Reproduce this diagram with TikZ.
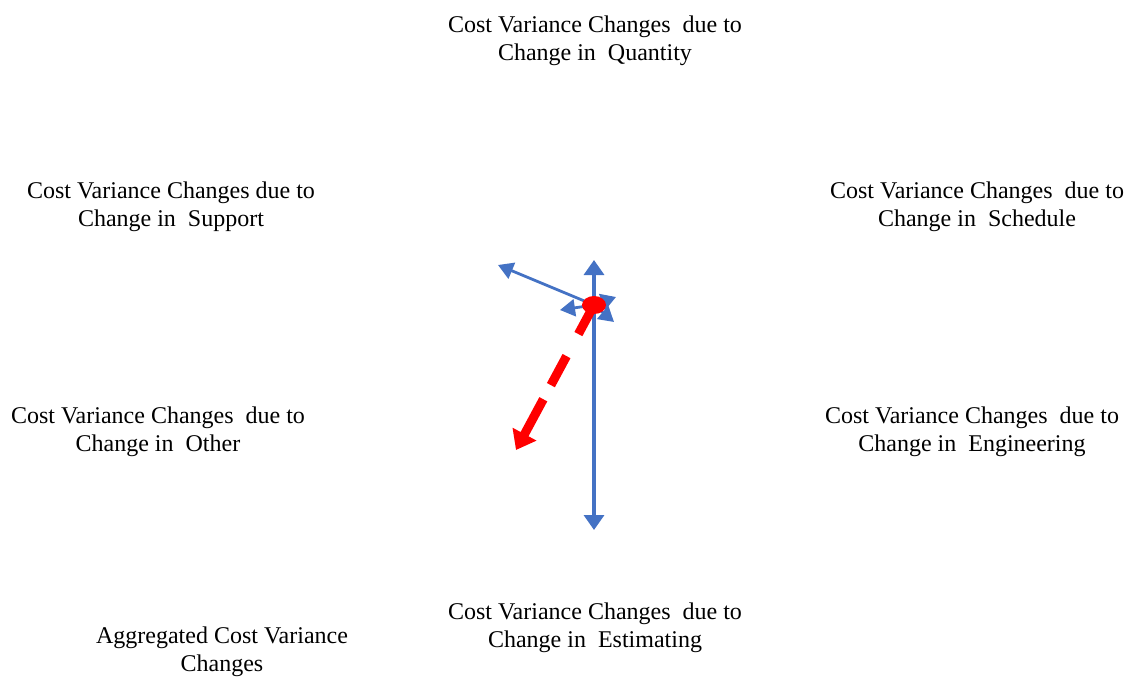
\documentclass[tikz,border=0pt]{standalone}
\usepackage{fontspec}
\setmainfont{Liberation Serif}
\usetikzlibrary{arrows.meta,calc}
\definecolor{oblue}{RGB}{68,114,196}
\begin{document}
\begin{tikzpicture}[x=1pt,y=-1pt,
  lbl/.style={align=center,font=\fontsize{24}{28}\selectfont,inner sep=0pt},
  barrow/.style={draw=oblue,line width=3.4pt,-{Triangle[length=15pt,width=20pt]}},
  sarrow/.style={draw=oblue,line width=2.8pt,-{Triangle[length=15pt,width=17pt]}},
  rline/.style={draw=red,line width=9pt,dash pattern=on 33pt off 25pt},
  rhead/.style={draw=red,line width=9pt,-{Triangle[length=18pt,width=26pt]}}]
\useasboundingbox (0,0) rectangle (1131,677);
\node[lbl] (qty) at (595,41) {Cost Variance Changes\ \ due to\\Change in\ \ Quantity};
\node[lbl] (sup) at (171,207) {Cost Variance Changes due to\\Change in\ \ Support};
\node[lbl] (sch) at (977,207) {Cost Variance Changes\ \ due to\\Change in\ \ Schedule};
\node[lbl] (oth) at (158,432) {Cost Variance Changes\ \ due to\\Change in\ \ Other};
\node[lbl] (eng) at (972,432) {Cost Variance Changes\ \ due to\\Change in\ \ Engineering};
\node[lbl] (est) at (595,628) {Cost Variance Changes\ \ due to\\Change in\ \ Estimating};
\node[lbl] (agg) at (222,652) {Aggregated Cost Variance\\Changes};
\coordinate (c) at (594,305);
\coordinate (tq) at (594,260);
\coordinate (te) at (594,530);
\coordinate (ts) at (498,265);
\coordinate (tsch) at (616,297);
\coordinate (teng) at (614,322);
\coordinate (toth) at (560,310);
\coordinate (tagg) at (516,450);
\draw[barrow] (c) -- (te);
\draw[barrow] (c) -- (tq);
\draw[sarrow] (c) -- (ts);
\draw[sarrow] (c) -- (tsch);
\draw[sarrow] (c) -- (teng);
\draw[sarrow] (c) -- (toth);
\draw[rline] (c) -- ($(c)!0.56!(tagg)$);
\draw[rhead] ($(c)!0.65!(tagg)$) -- (tagg);
\fill[red] (c) ellipse (12pt and 9pt);
\end{tikzpicture}
\end{document}
